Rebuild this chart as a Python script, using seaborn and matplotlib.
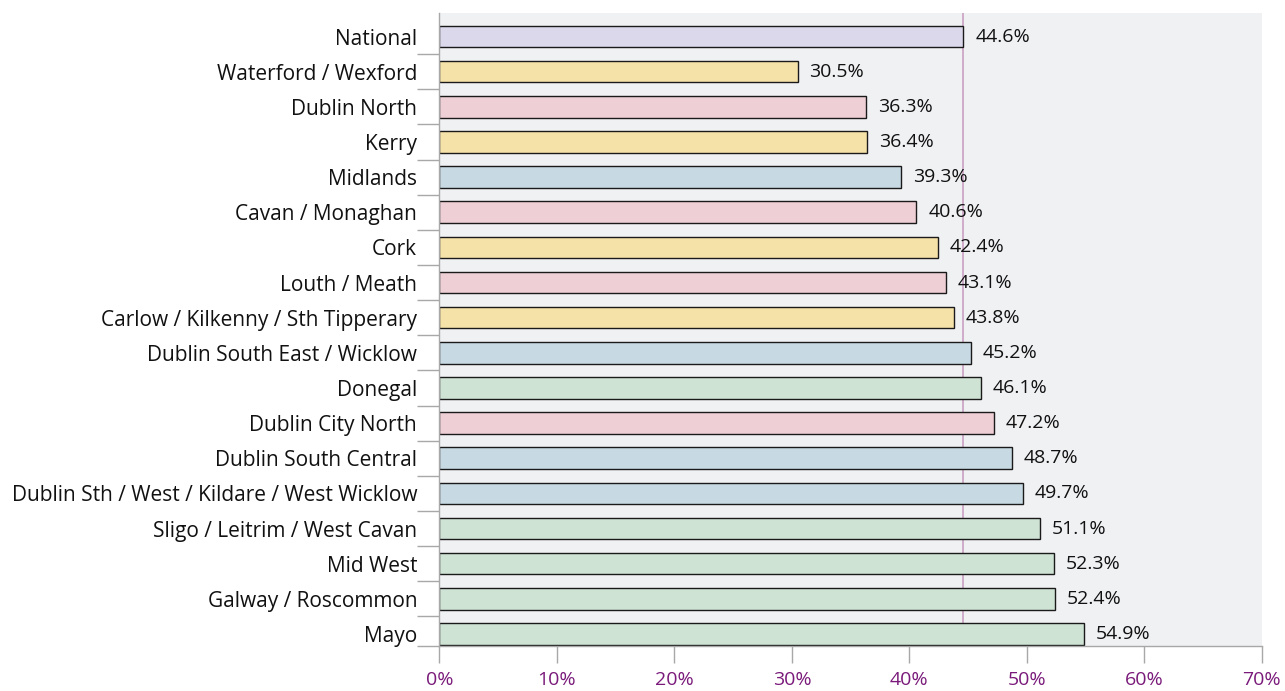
import matplotlib
matplotlib.use("Agg")
import matplotlib.pyplot as plt
import seaborn as sns
import pandas as pd
from matplotlib.ticker import FixedLocator, PercentFormatter

regions = [
    "National", "Waterford / Wexford", "Dublin North", "Kerry", "Midlands",
    "Cavan / Monaghan", "Cork", "Louth / Meath", "Carlow / Kilkenny / Sth Tipperary",
    "Dublin South East / Wicklow", "Donegal", "Dublin City North", "Dublin South Central",
    "Dublin Sth / West / Kildare / West Wicklow", "Sligo / Leitrim / West Cavan",
    "Mid West", "Galway / Roscommon", "Mayo",
]
values = [44.6, 30.5, 36.3, 36.4, 39.3, 40.6, 42.4, 43.1, 43.8, 45.2, 46.1, 47.2,
          48.7, 49.7, 51.1, 52.3, 52.4, 54.9]
groups = ["national", "yellow", "pink", "yellow", "blue", "pink", "yellow", "pink",
          "yellow", "blue", "green", "pink", "blue", "blue", "green", "green", "green",
          "green"]
x_ticks = [0, 10, 20, 30, 40, 50, 60, 70]

group_colors = {"national": "#DCD8EC", "yellow": "#F5E2A8", "pink": "#EDCFD5",
                "blue": "#C7D9E2", "green": "#CFE3D4"}

df = pd.DataFrame({"region": regions, "value": values, "group": groups})

sns.set_theme(style="white")
plt.rcParams["font.family"] = ["Open Sans", "DejaVu Sans"]

fig = plt.figure(figsize=(12.85, 6.91), dpi=100)
ax = fig.add_axes([0.342, 0.0658, 0.640, 0.9154])
ax.set_facecolor("#F0F1F3")

national = values[0]
ax.axvline(national, color="#C9A0C4", lw=1.2, zorder=0.5)

sns.barplot(data=df, x="value", y="region", hue="group", palette=group_colors,
            order=regions, orient="h", width=0.615, edgecolor="#1a1a1a", linewidth=1.0,
            saturation=1, legend=False, dodge=False, ax=ax, zorder=2)

for i, v in enumerate(values):
    ax.text(v + 1.0, i, f"{v:.1f}%", va="center", ha="left", fontsize=14,
            color="#111111")

n = len(regions)
y_bottom = n - 1 + 0.33
ax.set_xlim(0, 70)
ax.set_ylim(y_bottom, -0.67)
ax.xaxis.set_major_locator(FixedLocator(x_ticks))
ax.xaxis.set_major_formatter(PercentFormatter(decimals=0))
ax.set_xlabel("")
ax.set_ylabel("")

for s in ["top", "right"]:
    ax.spines[s].set_visible(False)
for s in ["left", "bottom"]:
    ax.spines[s].set_color("#A8A8A8")
    ax.spines[s].set_linewidth(1.0)

ax.tick_params(axis="x", which="major", length=12, width=1, color="#A8A8A8",
               labelcolor="#7A1A7A", labelsize=14, pad=6, direction="out", bottom=True)
ax.tick_params(axis="y", which="major", length=0, labelsize=15, labelcolor="#111111", pad=16)
ax.yaxis.set_minor_locator(FixedLocator([i + 0.5 for i in range(n - 1)] + [y_bottom]))
ax.tick_params(axis="y", which="minor", length=16, width=1, color="#A8A8A8", left=True)

fig.savefig("out.png", dpi=100)
